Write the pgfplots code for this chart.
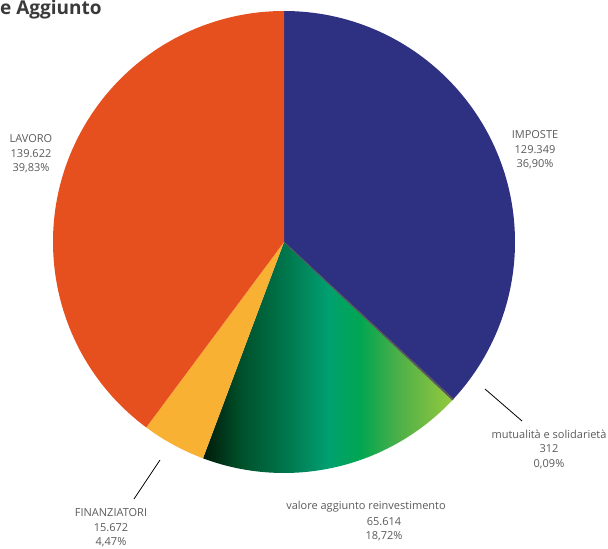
\documentclass[border=0pt]{standalone}
\usepackage{pgfplots}
\pgfplotsset{compat=1.18}
\usepackage{pgfplotstable}
\usepackage{fontspec}
\setmainfont{Open Sans}
\definecolor{cImp}{HTML}{2E3082}
\definecolor{cMut}{HTML}{5A5A5C}
\definecolor{cFin}{HTML}{F8B133}
\definecolor{cLav}{HTML}{E6501E}
\definecolor{txt}{HTML}{5A5A5A}
\definecolor{ttl}{HTML}{3A3A3A}
\definecolor{g0}{HTML}{001A08}
\definecolor{g1}{HTML}{00502A}
\definecolor{g2}{HTML}{007A50}
\definecolor{g3}{HTML}{00A070}
\definecolor{g4}{HTML}{00A651}
\definecolor{g5}{HTML}{50B048}
\definecolor{g6}{HTML}{95C93D}
\pgfdeclarehorizontalshading{vashade}{100bp}{color(0bp)=(g0); color(25bp)=(g0); color(32.5bp)=(g1); color(42.5bp)=(g2); color(50bp)=(g3); color(56.5bp)=(g4); color(64.5bp)=(g5); color(75bp)=(g6); color(100bp)=(g6)}

% values in thousands of euro
\pgfplotstableread{
label value
IMPOSTE 129.349
MUTUALITA 0.312
VALORE 65.614
FINANZIATORI 15.672
LAVORO 139.622
}\piedata

\pgfplotstablegetelem{0}{value}\of\piedata \let\vA\pgfplotsretval
\pgfplotstablegetelem{1}{value}\of\piedata \let\vB\pgfplotsretval
\pgfplotstablegetelem{2}{value}\of\piedata \let\vC\pgfplotsretval
\pgfplotstablegetelem{3}{value}\of\piedata \let\vD\pgfplotsretval
\pgfplotstablegetelem{4}{value}\of\piedata \let\vE\pgfplotsretval
\pgfmathsetmacro\tot{\vA+\vB+\vC+\vD+\vE}
\pgfmathsetmacro\aA{90-\vA/\tot*360}
\pgfmathsetmacro\aB{\aA-\vB/\tot*360}
\pgfmathsetmacro\aC{\aB-\vC/\tot*360}
\pgfmathsetmacro\aD{\aC-\vD/\tot*360}
\def\aE{-270}

\newcommand\pieslice[3]{% style, start, end
  \path[#1] (axis cs:284,307) -- (axis cs:{284+231*cos(#2)},{307+231*sin(#2)})
    arc[start angle=#2, end angle=#3, radius=231pt] -- cycle;}

\begin{document}
\begin{tikzpicture}
\useasboundingbox (0,0) rectangle (608pt,549pt);
\begin{axis}[
  at={(0pt,0pt)}, anchor=south west,
  scale only axis, width=608pt, height=549pt,
  xmin=0, xmax=608, ymin=0, ymax=549, enlargelimits=false,
  hide axis, clip=false,
]
\pieslice{fill=cImp}{90}{\aA}
\pieslice{shading=vashade}{\aB}{\aC}
\pieslice{fill=cFin}{\aC}{\aD}
\pieslice{fill=cLav}{\aD}{\aE}
\pieslice{fill=cMut, draw=cMut, line width=0.7pt, line join=round}{\aA}{\aB}

\draw[black, line width=0.8pt] (axis cs:485,160) -- (axis cs:522,128);
\draw[black, line width=0.8pt] (axis cs:160,89) -- (axis cs:134,50);

\node[anchor=base west, inner sep=0pt, text=ttl, font=\bfseries\fontsize{19}{21}\selectfont] at (axis cs:0,534) {e Aggiunto};

\begin{scope}[every node/.style={text=txt, align=center, inner sep=0pt, font=\fontsize{11}{14.5}\selectfont}]
\node at (axis cs:31,395) {LAVORO\\139.622\\39,83\%};
\node at (axis cs:535,399) {IMPOSTE\\129.349\\36,90\%};
\node at (axis cs:549,100) {mutualità e solidarietà\\312\\0,09\%};
\node at (axis cs:111,21) {FINANZIATORI\\15.672\\4,47\%};
\node at (axis cs:366,42) {valore aggiunto reinvestimento};
\node at (axis cs:384,20) {65.614\\18,72\%};
\end{scope}
\end{axis}
\end{tikzpicture}
\end{document}
